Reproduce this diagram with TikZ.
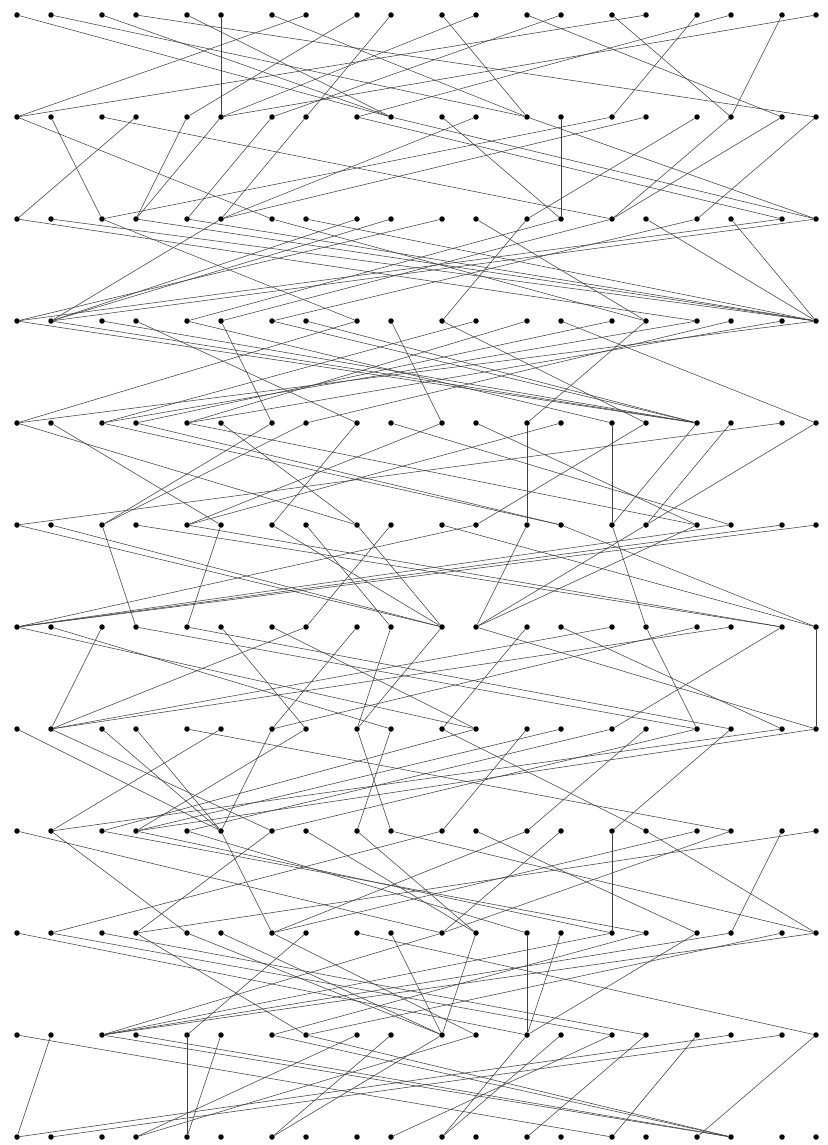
\documentclass[tikz,border=0pt]{standalone}
\begin{document}
\begin{tikzpicture}[x=1pt,y=-1pt,
  dot/.style={circle,fill=black,inner sep=0pt,minimum size=5.5pt},
  edge/.style={draw=black!75,line width=0.55pt}]
\useasboundingbox[fill=white] (0,0) rectangle (827,1145);
\foreach \r in {0,...,11}{
  \foreach \i in {0,...,19}{
    \pgfmathsetmacro\xx{17+85*floor(\i/2)+34*mod(\i,2)}
    \pgfmathsetmacro\yy{15+102*\r}
    \node[dot] (n-\r-\i) at (\xx,\yy) {};
  }
}
\foreach \t [count=\i from 0] in {9,12,9,19,9,5,12,0,4,7,12,5,18,6,17,0,14,8,17,5} \draw[edge] (n-0-\i) -- (n-1-\t);
\foreach \t [count=\i from 0] in {6,2,14,0,3,3,4,5,18,19,13,5,19,13,2,5,12,14,14,16} \draw[edge] (n-1-\i) -- (n-2-\t);
\foreach \t [count=\i from 0] in {16,19,8,19,19,1,15,19,1,1,0,15,10,4,5,19,6,19,0,1} \draw[edge] (n-2-\i) -- (n-3-\t);
\foreach \t [count=\i from 0] in {16,16,16,8,14,6,16,16,0,10,15,2,4,19,3,12,2,7,4,0} \draw[edge] (n-3-\i) -- (n-4-\t);
\foreach \t [count=\i from 0] in {8,5,13,13,16,8,2,2,6,17,4,16,12,4,14,11,14,15,0,15} \draw[edge] (n-4-\i) -- (n-5-\t);
\foreach \t [count=\i from 0] in {10,10,3,18,18,4,10,9,10,7,19,0,11,19,15,11,11,0,0,0} \draw[edge] (n-5-\i) -- (n-6-\t);
\foreach \t [count=\i from 0] in {11,9,1,16,17,7,11,1,6,8,8,19,10,18,1,16,6,1,14,19} \draw[edge] (n-6-\i) -- (n-7-\t);
\foreach \t [count=\i from 0] in {5,6,5,5,17,1,5,3,9,8,15,2,10,3,4,12,6,14,1,3} \draw[edge] (n-7-\i) -- (n-8-\t);
\foreach \t [count=\i from 0] in {10,4,15,14,12,6,3,11,11,19,1,16,6,10,14,19,6,10,17,3} \draw[edge] (n-8-\i) -- (n-9-\t);
\foreach \t [count=\i from 0] in {12,14,15,7,10,10,11,4,19,10,2,10,12,12,2,6,12,2,7,2} \draw[edge] (n-9-\i) -- (n-10-\t);
\foreach \t [count=\i from 0] in {14,0,17,17,4,4,17,17,3,6,6,3,10,10,9,12,14,0,1,16} \draw[edge] (n-10-\i) -- (n-11-\t);
\end{tikzpicture}
\end{document}
